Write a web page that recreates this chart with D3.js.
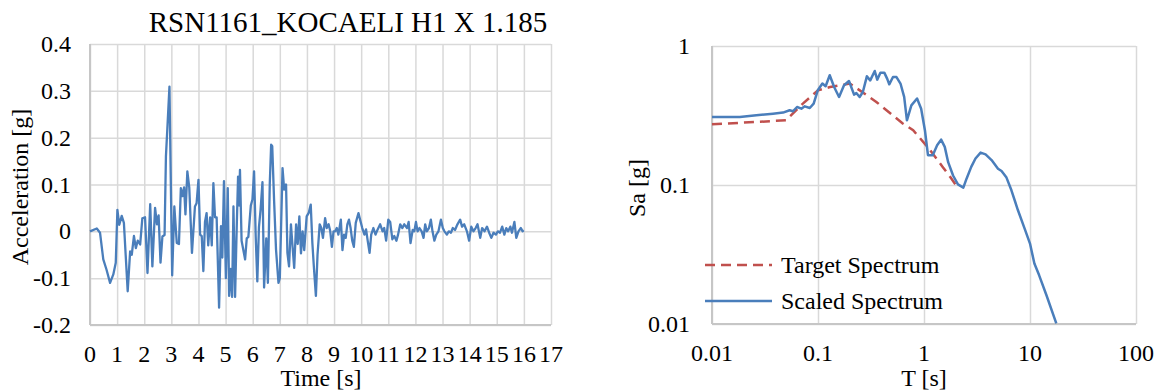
<!DOCTYPE html>
<html>
<head>
<meta charset="utf-8">
<script src="https://cdn.jsdelivr.net/npm/d3@7"></script>
<style>
  body { margin: 0; background: #fff; }
  text { font-family: "Liberation Serif", "Times New Roman", serif; fill: #000; }
</style>
</head>
<body>
<svg id="chart" width="1163" height="392"></svg>
<script>
// ---- data: acceleration time history ----
var timeVals = [0, 0.25, 0.37, 0.49, 0.61, 0.74, 0.86, 0.95, 1.01, 1.08, 1.17, 1.25, 1.39, 1.48, 1.54, 1.62, 1.69, 1.76, 1.85, 1.93,
  2.03, 2.12, 2.22, 2.3, 2.4, 2.47, 2.53, 2.6, 2.67, 2.75, 2.8, 2.85, 2.93, 3.03, 3.11, 3.2, 3.28, 3.35, 3.41, 3.47,
  3.52, 3.59, 3.66, 3.76, 3.87, 3.93, 4.0, 4.06, 4.12, 4.18, 4.24, 4.3, 4.36, 4.43, 4.49, 4.55, 4.61, 4.67, 4.76, 4.83,
  4.88, 4.94, 5.01, 5.08, 5.13, 5.19, 5.24, 5.29, 5.35, 5.41, 5.46, 5.5, 5.53, 5.59, 5.72, 5.78, 5.84, 5.93, 5.99, 6.05,
  6.11, 6.17, 6.23, 6.29, 6.36, 6.42, 6.5, 6.56, 6.63, 6.68, 6.72, 6.79, 6.86, 6.95, 7.0, 7.1, 7.16, 7.23, 7.28, 7.34,
  7.41, 7.47, 7.53, 7.6, 7.66, 7.72, 7.78, 7.84, 7.9, 7.99, 8.07, 8.14, 8.2, 8.26, 8.33, 8.39, 8.47, 8.53, 8.59, 8.67,
  8.73, 8.8, 8.86, 8.92, 8.98, 9.04, 9.1, 9.16, 9.25, 9.31, 9.37, 9.43, 9.49, 9.55, 9.61, 9.67, 9.73, 9.8, 9.9, 9.96,
  10.04, 10.12, 10.18, 10.24, 10.31, 10.37, 10.45, 10.53, 10.6, 10.7, 10.79, 10.85, 10.92, 11.0, 11.07, 11.15, 11.22, 11.3, 11.36, 11.44,
  11.52, 11.59, 11.69, 11.75, 11.82, 11.9, 11.96, 12.02, 12.08, 12.15, 12.23, 12.3, 12.36, 12.42, 12.5, 12.57, 12.63, 12.7, 12.77, 12.85,
  12.94, 13.01, 13.07, 13.16, 13.23, 13.31, 13.38, 13.46, 13.55, 13.65, 13.72, 13.8, 13.9, 13.98, 14.06, 14.14, 14.22, 14.29, 14.39, 14.46,
  14.55, 14.64, 14.72, 14.8, 14.88, 14.97, 15.04, 15.12, 15.2, 15.28, 15.35, 15.42, 15.5, 15.56, 15.65, 15.72, 15.8, 15.89, 15.95, 16.0];
var accelVals = [0, 0.006, -0.003, -0.06, -0.082, -0.11, -0.092, -0.067, 0.046, 0.014, 0.033, 0.018, -0.128, -0.043, -0.05, -0.01, -0.036, -0.02, -0.028, 0.028,
  0.03, -0.089, 0.058, -0.075, 0.05, 0.015, 0.034, -0.067, -0.011, -0.008, 0.16, 0.217, 0.309, -0.094, 0.053, -0.025, -0.027, 0.092, 0.075, 0.094,
  0.036, 0.128, 0.094, -0.046, 0.053, 0.06, 0.11, -0.007, -0.01, -0.085, 0.02, 0.039, -0.03, 0.03, -0.03, 0.103, 0.03, 0.03, -0.163, 0.011,
  -0.056, 0.107, -0.1, 0.092, -0.138, -0.08, -0.14, 0.053, -0.14, 0.007, 0.117, 0.055, 0.131, -0.02, -0.06, -0.015, -0.012, 0.055, 0.068, 0.128,
  -0.01, -0.107, 0.009, 0.046, 0.105, -0.12, -0.015, -0.11, 0.103, 0.185, 0.182, 0.064, -0.039, -0.11, -0.1, 0.135, 0.089, 0.1, -0.046, -0.075,
  0.015, -0.033, -0.078, 0.015, -0.027, 0.032, -0.047, 0.0, -0.04, 0.032, 0.04, 0.057, -0.025, -0.08, -0.138, -0.05, 0.015, 0.007, -0.014, 0.028,
  0.007, 0.015, 0, -0.033, 0, 0, 0.007, -0.007, 0.025, -0.04, -0.007, -0.014, 0.015, 0.025, 0.007, -0.02, -0.033, 0.018, 0.039, 0.025,
  0.007, -0.007, 0.004, -0.02, -0.046, -0.007, 0.007, -0.007, 0.003, 0.015, 0, 0.007, -0.02, 0.025, 0.02, -0.017, -0.01, -0.02, -0.007, 0.015,
  0.007, 0.015, 0.007, 0.02, -0.025, 0.003, 0, 0.02, 0, 0.007, 0, -0.014, 0.015, 0, 0.007, 0.025, 0, -0.02, -0.007, 0,
  0.025, 0.007, 0, -0.007, 0, -0.003, 0.007, 0.003, 0.015, 0.025, 0.01, 0.015, 0, -0.02, 0.01, 0, 0.007, 0.015, -0.014, 0.007,
  0, 0.01, -0.003, -0.014, -0.003, -0.007, 0, -0.003, 0.01, -0.007, 0.007, 0, 0.01, -0.003, 0.02, -0.014, 0, 0.007, 0, 0.002];

var timeTicks = d3.range(0, 18, 1);
var accelTicks = [-0.2, -0.1, 0, 0.1, 0.2, 0.3, 0.4];

// ---- data: response spectra ----
var periodScaled = [0.01, 0.0183, 0.0262, 0.0376, 0.0468, 0.054, 0.058, 0.0634, 0.0697, 0.075, 0.0836, 0.091, 0.0995, 0.11, 0.118, 0.129, 0.142, 0.158, 0.176, 0.196,
  0.219, 0.23, 0.247, 0.265, 0.289, 0.311, 0.343, 0.362, 0.388, 0.422, 0.45, 0.47, 0.51, 0.55, 0.6, 0.65, 0.69, 0.76, 0.86, 0.94,
  1.02, 1.09, 1.21, 1.33, 1.45, 1.57, 1.69, 1.88, 2.09, 2.35, 2.52, 2.79, 3.06, 3.42, 3.81, 4.34, 4.99, 5.39, 6.0, 6.68,
  7.7, 8.9, 10.0, 11.0, 12.2, 14.3, 17.7];
var saScaled = [0.308, 0.308, 0.317, 0.326, 0.332, 0.345, 0.339, 0.364, 0.354, 0.368, 0.358, 0.385, 0.48, 0.537, 0.513, 0.616, 0.507, 0.43, 0.522, 0.56,
  0.447, 0.459, 0.43, 0.467, 0.605, 0.566, 0.661, 0.573, 0.643, 0.643, 0.58, 0.53, 0.598, 0.598, 0.537, 0.43, 0.292, 0.374, 0.419, 0.354,
  0.248, 0.164, 0.164, 0.193, 0.212, 0.188, 0.146, 0.117, 0.101, 0.0957, 0.111, 0.135, 0.155, 0.171, 0.166, 0.151, 0.131, 0.126, 0.113, 0.0916,
  0.0658, 0.0485, 0.0379, 0.0272, 0.0224, 0.0161, 0.0101];
var periodTarget = [0.01, 0.05, 0.072, 0.1, 0.13, 0.2, 0.355, 0.63, 0.79, 1.13, 1.5, 1.77, 2.0];
var saTarget = [0.273, 0.292, 0.385, 0.48, 0.507, 0.537, 0.396, 0.277, 0.248, 0.18, 0.135, 0.114, 0.0997];

var periodTicks = [0.01, 0.1, 1, 10, 100];
var saTicks = [0.01, 0.1, 1];

var blue = "#4a7ebb", red = "#c0504d", grid = "#d9d9d9";

var svg = d3.select("#chart");
svg.append("rect").attr("width", 1163).attr("height", 392).attr("fill", "#fff");

// ================= left: time history =================
var left = { x0: 90, x1: 551, y0: 44, y1: 325 };

var xTime = d3.scaleLinear().domain([0, 17]).range([left.x0, left.x1]);
var yAcc = d3.scaleLinear().domain([-0.2, 0.4]).range([left.y1, left.y0]);

var g1 = svg.append("g");

g1.append("g")
  .attr("transform", "translate(0," + left.y1 + ")")
  .call(d3.axisBottom(xTime).tickValues(timeTicks).tickSize(-(left.y1 - left.y0)).tickFormat(""))
  .call(function (g) { g.select(".domain").remove(); })
  .selectAll("line").attr("stroke", grid).attr("stroke-width", 1.5);

g1.append("g")
  .attr("transform", "translate(" + left.x0 + ",0)")
  .call(d3.axisLeft(yAcc).tickValues(accelTicks).tickSize(-(left.x1 - left.x0)).tickFormat(""))
  .call(function (g) { g.select(".domain").remove(); })
  .selectAll("line").attr("stroke", grid).attr("stroke-width", 1.5);

// axis lines
g1.append("line").attr("x1", left.x0).attr("x2", left.x0).attr("y1", left.y0).attr("y2", left.y1)
  .attr("stroke", "#c6c6c6").attr("stroke-width", 2);
g1.append("line").attr("x1", left.x0).attr("x2", left.x1).attr("y1", left.y1).attr("y2", left.y1)
  .attr("stroke", "#c6c6c6").attr("stroke-width", 2);

// tick labels
g1.selectAll(".xlab").data(timeTicks).enter().append("text")
  .attr("x", function (d) { return xTime(d); })
  .attr("y", 362)
  .attr("text-anchor", "middle")
  .style("font-size", "24px")
  .text(function (d) { return d; });

g1.selectAll(".ylab").data(accelTicks).enter().append("text")
  .attr("x", 71)
  .attr("y", function (d) { return yAcc(d) + 8; })
  .attr("text-anchor", "end")
  .style("font-size", "24px")
  .text(function (d) { return d === 0 ? "0" : d.toFixed(1); });

var accLine = d3.line()
  .x(function (d, i) { return xTime(timeVals[i]); })
  .y(function (d) { return yAcc(d); });

g1.append("path")
  .datum(accelVals)
  .attr("d", accLine)
  .attr("fill", "none")
  .attr("stroke", blue)
  .attr("stroke-width", 2.3)
  .attr("stroke-linejoin", "round");

g1.append("text").attr("x", 348).attr("y", 32).attr("text-anchor", "middle")
  .style("font-size", "29px").text("RSN1161_KOCAELI H1 X 1.185");
g1.append("text").attr("x", 321).attr("y", 386).attr("text-anchor", "middle")
  .style("font-size", "24px").text("Time [s]");
g1.append("text").attr("transform", "translate(28,187) rotate(-90)").attr("text-anchor", "middle")
  .style("font-size", "24px").text("Acceleration [g]");

// ================= right: spectra =================
var right = { x0: 712, x1: 1136, y0: 46, y1: 324 };

var xPer = d3.scaleLog().domain([0.01, 100]).range([right.x0, right.x1]);
var ySa = d3.scaleLog().domain([0.01, 1]).range([right.y1, right.y0]);

var g2 = svg.append("g");

g2.append("g")
  .attr("transform", "translate(0," + right.y1 + ")")
  .call(d3.axisBottom(xPer).tickValues(periodTicks).tickSize(-(right.y1 - right.y0)).tickFormat(""))
  .call(function (g) { g.select(".domain").remove(); })
  .selectAll("line").attr("stroke", grid).attr("stroke-width", 1.5);

g2.append("g")
  .attr("transform", "translate(" + right.x0 + ",0)")
  .call(d3.axisLeft(ySa).tickValues(saTicks).tickSize(-(right.x1 - right.x0)).tickFormat(""))
  .call(function (g) { g.select(".domain").remove(); })
  .selectAll("line").attr("stroke", grid).attr("stroke-width", 1.5);

g2.append("line").attr("x1", right.x0).attr("x2", right.x0).attr("y1", right.y0).attr("y2", right.y1)
  .attr("stroke", "#c6c6c6").attr("stroke-width", 2);
g2.append("line").attr("x1", right.x0).attr("x2", right.x1).attr("y1", right.y1).attr("y2", right.y1)
  .attr("stroke", "#c6c6c6").attr("stroke-width", 2);

g2.selectAll(".xlab").data(periodTicks).enter().append("text")
  .attr("x", function (d) { return xPer(d); })
  .attr("y", 361)
  .attr("text-anchor", "middle")
  .style("font-size", "24px")
  .text(function (d) { return String(d); });

g2.selectAll(".ylab").data(saTicks).enter().append("text")
  .attr("x", 690)
  .attr("y", function (d) { return ySa(d) + 8; })
  .attr("text-anchor", "end")
  .style("font-size", "24px")
  .text(function (d) { return String(d); });

var targetLine = d3.line()
  .x(function (d, i) { return xPer(periodTarget[i]); })
  .y(function (d) { return ySa(d); });

var scaledLine = d3.line()
  .x(function (d, i) { return xPer(periodScaled[i]); })
  .y(function (d) { return ySa(d); });

g2.append("path")
  .datum(saTarget)
  .attr("d", targetLine)
  .attr("fill", "none")
  .attr("stroke", red)
  .attr("stroke-width", 2.5)
  .attr("stroke-dasharray", "10,6");

g2.append("path")
  .datum(saScaled)
  .attr("d", scaledLine)
  .attr("fill", "none")
  .attr("stroke", blue)
  .attr("stroke-width", 2.5)
  .attr("stroke-linejoin", "round");

// legend
var legend = g2.append("g");
legend.append("line").attr("x1", 705).attr("x2", 772).attr("y1", 265).attr("y2", 265)
  .attr("stroke", red).attr("stroke-width", 2.5).attr("stroke-dasharray", "10,6");
legend.append("text").attr("x", 781).attr("y", 273).style("font-size", "24px").text("Target Spectrum");
legend.append("line").attr("x1", 705).attr("x2", 772).attr("y1", 301).attr("y2", 301)
  .attr("stroke", blue).attr("stroke-width", 2.5);
legend.append("text").attr("x", 781).attr("y", 309).style("font-size", "24px").text("Scaled Spectrum");

g2.append("text").attr("x", 924).attr("y", 386).attr("text-anchor", "middle")
  .style("font-size", "24px").text("T [s]");
g2.append("text").attr("transform", "translate(645,188) rotate(-90)").attr("text-anchor", "middle")
  .style("font-size", "24px").text("Sa [g]");
</script>
</body>
</html>
